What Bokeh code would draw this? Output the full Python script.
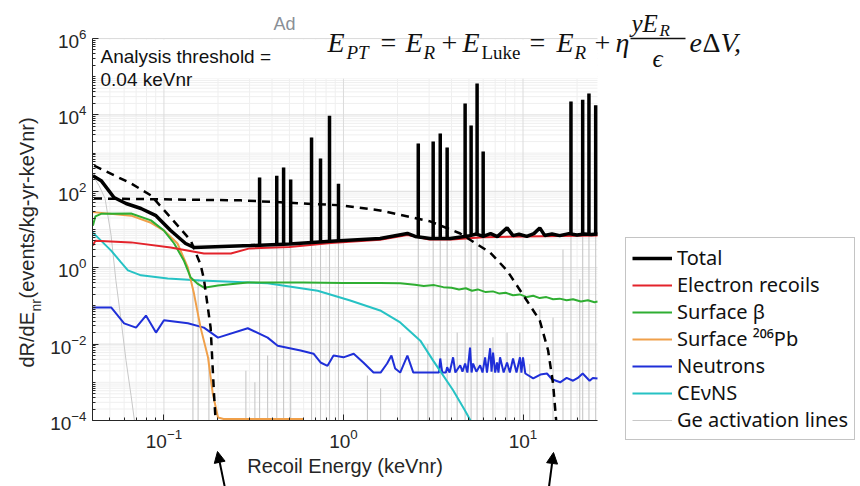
import numpy as np
from bokeh.plotting import figure
from bokeh.models import (FixedTicker, Legend, LegendItem, Label, BoxAnnotation,
                          Arrow, NormalHead)
from bokeh.embed import file_html
from bokeh.resources import INLINE

# ---------------- data ----------------
x_lim = (0.04, 26.0)
y_lim = (1e-4, 1e6)
x_ticks = [0.1, 1.0, 10.0]
y_ticks = [1e-4, 1e-2, 1e0, 1e2, 1e4, 1e6]

total_E = [0.0402, 0.0447, 0.0527, 0.0615, 0.0745, 0.0903, 0.109, 0.132, 0.147, 0.304, 0.5,
           0.847, 1.6, 2.27, 2.51, 3.04, 3.93, 5.07, 5.5, 6.0, 6.6, 7.2, 8.15, 8.8, 9.5,
           10.5, 11.5, 12.4, 13.2, 14.5, 16.0, 18.0, 20.0, 22.0, 24.0, 26.0]
total_R = [257, 190, 69, 48, 35.5, 23, 9.4, 4.3, 3.4, 3.8, 4.2,
           4.9, 5.8, 7.9, 6.6, 5.8, 5.8, 6.9, 7.6, 6.6, 7.8, 6.5, 11.0, 6.9, 7.5,
           6.6, 7.8, 11.0, 7.0, 7.6, 6.9, 7.8, 7.2, 7.6, 7.4, 7.6]

spike_E = [0.341, 0.425, 0.464, 0.508, 0.664, 0.745, 0.836, 0.938, 2.61, 3.16, 3.46, 3.78,
           4.76, 5.14, 5.55, 6.0, 18.5, 21.5, 23.3, 25.4]
spike_top = [229, 257, 417, 204, 2570, 724, 9550, 158, 1780, 2000, 3240, 1410,
             20000, 5250, 66000, 1100, 22400, 25100, 36300, 17800]

er_E = [0.0402, 0.0415, 0.0656, 0.109, 0.167, 0.236, 0.3, 0.5, 0.85, 1.6, 2.27, 2.6, 3.0,
        4.0, 6.0, 10.0, 26.0]
er_R = [3.8, 5.1, 4.6, 3.4, 2.35, 2.35, 3.2, 3.5, 4.4, 5.4, 7.2, 6.4, 5.5,
        5.5, 6.3, 6.6, 7.0]

beta_E = [0.0402, 0.0415, 0.045, 0.0656, 0.0847, 0.1, 0.114, 0.129, 0.141, 0.153, 0.167, 0.2,
          0.293, 0.6, 1.0, 1.6, 2.07, 2.5, 2.8, 3.2, 3.6, 4.0, 4.4, 4.8, 5.2, 5.6, 6.2, 6.8,
          7.4, 8.0, 8.8, 9.6, 10.5, 11.4, 12.4, 13.5, 14.7, 16.0, 17.5, 19.0, 21.0, 23.0,
          25.0, 26.0]
beta_R = [12.6, 22, 26, 26.3, 17.3, 9.4, 4.3, 1.55, 0.55, 0.39, 0.30, 0.34,
          0.41, 0.41, 0.40, 0.40, 0.39, 0.36, 0.33, 0.35, 0.31, 0.30, 0.27, 0.29, 0.25, 0.27,
          0.23, 0.24, 0.21, 0.22, 0.19, 0.20, 0.17, 0.185, 0.16, 0.17, 0.15, 0.155, 0.14, 0.15,
          0.13, 0.14, 0.125, 0.13]

pb_E = [0.0402, 0.0656, 0.0847, 0.1, 0.119, 0.136, 0.147, 0.16, 0.176, 0.187, 0.2, 0.215, 0.6]
pb_R = [28.5, 23, 15, 9.4, 4.3, 1.0, 0.21, 0.027, 0.0045, 5.1e-4, 1.2e-4, 1.1e-4, 1.1e-4]

n_E = [0.0402, 0.0508, 0.06, 0.0699, 0.0794, 0.0903, 0.1, 0.136, 0.167, 0.2, 0.293, 0.378,
       0.43, 0.577, 0.681, 0.745, 0.815, 0.88, 1.0, 1.14, 1.29, 1.47, 1.61, 1.75, 1.85, 1.94,
       2.07, 2.27, 2.45, 3.16, 3.4, 3.46, 3.55, 3.72, 3.78, 3.9, 4.08, 4.2, 4.47, 4.6, 4.76,
       4.9, 5.07, 5.17, 5.27, 5.5, 5.77, 5.95, 6.15, 6.3, 6.56, 6.68, 6.81, 7.0, 7.17, 7.3,
       7.45, 7.8, 8.15, 8.45, 8.8, 9.2, 9.62, 9.8, 10.0, 10.3, 11.4, 12.5, 13.6, 14.5, 16.1,
       17.5, 19.0, 20.2, 21.5, 23.5, 24.5, 26.0]
n_R = [0.091, 0.091, 0.035, 0.027, 0.056, 0.020, 0.042, 0.035, 0.027, 0.0148, 0.026, 0.0148,
       0.0091, 0.0068, 0.0056, 0.0033, 0.0027, 0.005, 0.0045, 0.0056, 0.0033, 0.0018, 0.0018,
       0.0031, 0.005, 0.0023, 0.0018, 0.005, 0.0018, 0.0018, 0.0018, 0.0042, 0.0018, 0.0018,
       0.0025, 0.0018, 0.0045, 0.0018, 0.0028, 0.0019, 0.0031, 0.0018, 0.0081, 0.0018, 0.0031,
       0.0019, 0.0028, 0.0018, 0.0045, 0.0018, 0.0078, 0.0019, 0.006, 0.0018, 0.0033, 0.0018,
       0.0045, 0.0018, 0.0033, 0.0018, 0.0042, 0.0018, 0.0045, 0.0018, 0.0045, 0.0017, 0.00126,
       0.0016, 0.0017, 0.0012, 0.001, 0.0013, 0.0011, 0.0013, 0.0017, 0.0011, 0.0013, 0.00126]

cevns_E = [0.0402, 0.0508, 0.0577, 0.063, 0.0745, 0.105, 0.16, 0.378, 0.718, 1.09, 1.6, 2.07,
           2.68, 3.16, 4.08, 4.76, 5.1]
cevns_R = [8.3, 2.8, 1.38, 0.85, 0.63, 0.52, 0.46, 0.39, 0.25, 0.138, 0.076, 0.037,
           0.0123, 0.0037, 6.2e-4, 1.8e-4, 1e-4]

ge_curve_E = [0.0402, 0.0435, 0.047, 0.0508, 0.054, 0.0577, 0.0615, 0.0656, 0.0685]
ge_curve_R = [257, 141, 65, 6.9, 0.46, 0.042, 0.0037, 4.5e-4, 1e-4]

ge_line_E = [0.145, 0.155, 0.178, 0.286, 0.321, 0.341, 0.378, 0.425, 0.464, 0.508, 0.664, 0.745,
             0.836, 0.938, 1.36, 1.61, 2.07, 2.61, 2.95, 3.16, 3.46, 3.78, 4.3, 4.76, 5.14, 5.55,
             6.0, 6.8, 8.15, 9.6, 10.9, 12.4, 14.7, 16.7, 18.5, 20.7, 21.5, 23.3, 25.4]
ge_line_top = [0.3, 0.5, 0.0045, 0.002, 0.001, 229, 0.005, 257, 417, 204, 2570, 724,
               9550, 158, 0.0015, 0.0007, 0.015, 1780, 0.01, 2000, 3240, 1410, 0.02, 20000, 5250,
               66000, 1100, 0.015, 0.02, 0.02, 0.003, 0.08, 0.05, 3.0, 22400, 0.5, 25100, 36300,
               17800]

dm1_E = [0.0408, 0.0656, 0.0847, 0.109, 0.141, 0.16, 0.167, 0.182, 0.19, 0.194]
dm1_R = [473, 160, 78, 20.6, 5.15, 1.2, 0.5, 0.027, 5.1e-4, 1e-4]

dm2_E = [0.0408, 0.268, 0.962, 1.6, 3.04, 4.47, 6.56, 8.15, 10.5, 12.4, 13.8, 14.7, 15.3]
dm2_R = [65, 58, 43, 31.6, 16.3, 7.85, 2.5, 0.845, 0.138, 0.0415, 6.8e-3, 9.3e-4, 1e-4]

legend_labels = ["Total", "Electron recoils", "Surface β", "Surface ²⁰⁶Pb", "Neutrons",
                 "CEνNS", "Ge activation lines"]

# ---------------- layout ----------------
W, H = 860, 486
PL, PR, PT, PB = 92, 597, 38, 420          # plot box inside the canvas
SANS = "Liberation Sans"
SERIF = "Liberation Serif"
AXC = "#262626"

LX0, LX1 = np.log10(x_lim)
LY0, LY1 = np.log10(y_lim)
kx = (LX1 - LX0) / (PR - PL)
ky = (LY1 - LY0) / (PB - PT)
full_x = (10 ** (LX0 - PL * kx), 10 ** (LX1 + (W - PR) * kx))
full_y = (10 ** (LY0 - (H - PB) * ky), 10 ** (LY1 + PT * ky))


def dx(px):
    return 10 ** (LX0 + (px - PL) * kx)


def dy(py):
    return 10 ** (LY1 - (py - PT) * ky)


p = figure(width=W, height=H, x_axis_type="log", y_axis_type="log",
           x_range=full_x, y_range=full_y, title=None,
           output_backend="svg", toolbar_location=None,
           min_border_left=0, min_border_right=0, min_border_top=0, min_border_bottom=0)
p.outline_line_color = None
p.background_fill_color = "white"
p.xgrid.visible = False
p.ygrid.visible = False

x_minor = [k * 10.0 ** e for e in (-2, -1, 0, 1) for k in range(1, 10)
           if x_lim[0] <= k * 10.0 ** e <= x_lim[1] and k * 10.0 ** e not in x_ticks]
y_minor = [k * 10.0 ** e for e in range(-4, 6) for k in range(1, 10)
           if k * 10.0 ** e not in y_ticks]
p.xaxis.ticker = FixedTicker(ticks=x_ticks, minor_ticks=x_minor)
p.yaxis.ticker = FixedTicker(ticks=y_ticks, minor_ticks=y_minor)
p.xaxis.fixed_location = y_lim[0]
p.yaxis.fixed_location = x_lim[0]
p.xaxis.bounds = x_lim
p.yaxis.bounds = y_lim

for ax in (p.xaxis, p.yaxis):
    ax.axis_line_color = AXC
    ax.major_tick_line_color = AXC
    ax.minor_tick_line_color = AXC
    ax.major_tick_in = 6
    ax.major_tick_out = 0
    ax.minor_tick_in = 3
    ax.minor_tick_out = 0
    ax.major_label_text_font = SANS
    ax.major_label_text_font_size = "19px"
    ax.major_label_text_color = AXC
p.yaxis.major_label_standoff = 6
p.xaxis.major_label_standoff = 8
p.xaxis.axis_label = "Recoil Energy (keVnr)"
p.xaxis.axis_label_text_font = SANS
p.xaxis.axis_label_text_font_size = "20px"
p.xaxis.axis_label_text_font_style = "normal"
p.xaxis.axis_label_text_color = AXC
p.xaxis.axis_label_standoff = 4

# grid (restricted to the plot box)
grid_major = "#dcdcdc"
grid_minor = "#efefef"
p.segment(x0=x_minor, y0=[y_lim[0]] * len(x_minor), x1=x_minor, y1=[y_lim[1]] * len(x_minor),
          line_color=grid_minor, line_width=1, level="underlay")
p.segment(x0=[x_lim[0]] * len(y_minor), y0=y_minor, x1=[x_lim[1]] * len(y_minor), y1=y_minor,
          line_color=grid_minor, line_width=1, level="underlay")
p.segment(x0=x_ticks, y0=[y_lim[0]] * len(x_ticks), x1=x_ticks, y1=[y_lim[1]] * len(x_ticks),
          line_color=grid_major, line_width=1, level="underlay")
p.segment(x0=[x_lim[0]] * len(y_ticks), y0=y_ticks, x1=[x_lim[1]] * len(y_ticks), y1=y_ticks,
          line_color=grid_major, line_width=1, level="underlay")

# white area behind the formula / threshold text (covers only the grid)
p.add_layout(BoxAnnotation(left=x_lim[0], right=x_lim[1], top=dy(39), bottom=dy(78),
                           fill_color="white", fill_alpha=1.0, line_color=None,
                           level="underlay"))

# ---------------- curves ----------------
gray = "#c8c8c8"
ge_floor = [y_lim[0]] * len(ge_line_E)
r_ge = p.line(ge_curve_E, ge_curve_R, line_color=gray, line_width=1)
p.segment(x0=ge_line_E, y0=ge_floor, x1=ge_line_E, y1=ge_line_top, line_color=gray,
          line_width=1.1)
r_n = p.line(n_E, n_R, line_color="#1f2fd8", line_width=2)
r_cv = p.line(cevns_E, cevns_R, line_color="#26c2c4", line_width=2)
r_pb = p.line(pb_E, pb_R, line_color="#f0a04a", line_width=2)
r_b = p.line(beta_E, beta_R, line_color="#2fae32", line_width=2)
r_er = p.line(er_E, er_R, line_color="#e3232b", line_width=2)
p.line(dm1_E, dm1_R, line_color="black", line_width=2.5, line_dash="8 6")
p.line(dm2_E, dm2_R, line_color="black", line_width=2.5, line_dash="8 6")
spike_base = 10 ** np.interp(np.log10(spike_E), np.log10(total_E), np.log10(total_R))
p.segment(x0=spike_E, y0=spike_base, x1=spike_E, y1=spike_top, line_color="black",
          line_width=3.5)
r_tot = p.line(total_E, total_R, line_color="black", line_width=3.5)

legend = Legend(items=[LegendItem(label=lab, renderers=[r]) for lab, r in
                       zip(legend_labels, [r_tot, r_er, r_b, r_pb, r_n, r_cv, r_ge])],
                location=(625, H - 440), margin=0, padding=6, spacing=-1,
                label_height=22, glyph_height=22, glyph_width=40, label_standoff=5,
                label_text_font="Noto Sans", label_text_font_size="20px",
                label_text_color="#111111",
                border_line_color="#8a8a8a", border_line_width=1,
                background_fill_color="white", background_fill_alpha=1.0)
p.add_layout(legend)

# ---------------- texts ----------------
SHIFT = 0.34   # baseline correction, in em


def put(text, px, py, size, italic=False, font=SANS, color="#111111", angle=0.0):
    if angle == 0.0:
        py = py - SHIFT * size
    else:
        px = px - SHIFT * size
    p.add_layout(Label(x=dx(px), y=dy(py), text=text, text_font=font,
                       text_font_size=f"{size}px",
                       text_font_style="italic" if italic else "normal",
                       text_color=color, text_baseline="alphabetic", text_align="left",
                       angle=angle))


put("Analysis threshold =", 100, 62, 19)
put("0.04 keVnr", 100, 85, 19)
put("Ad", 273, 30, 18, color="#8a8f96")

# y axis label (rotated)
ang = np.pi / 2
put("dR/dE", 33, 367, 20, angle=ang, color=AXC)
put("nr", 40, 311, 14, angle=ang, color=AXC)
put(" (events/kg-yr-keVnr)", 33, 298, 20, angle=ang, color=AXC)

# formula
put("E", 327, 52, 28, italic=True, font=SERIF)
put("PT", 346, 58, 19, italic=True, font=SERIF)
put("=", 380, 52, 28, font=SERIF)
put("E", 405, 52, 28, italic=True, font=SERIF)
put("R", 423, 58, 19, italic=True, font=SERIF)
put("+", 441, 52, 28, font=SERIF)
put("E", 462, 52, 28, italic=True, font=SERIF)
put("Luke", 481, 58, 19, font=SERIF)
put("=", 529, 52, 28, font=SERIF)
put("E", 556, 52, 28, italic=True, font=SERIF)
put("R", 574, 58, 19, italic=True, font=SERIF)
put("+", 594, 52, 28, font=SERIF)
put("η", 615, 52, 28, italic=True, font=SERIF)
put("y", 631, 31, 25, italic=True, font=SERIF)
put("E", 642, 31, 25, italic=True, font=SERIF)
put("R", 659, 36, 17, italic=True, font=SERIF)
put("ϵ", 652, 66, 25, italic=True, font=SERIF)
put("e", 689, 52, 28, italic=True, font=SERIF)
put("Δ", 702, 52, 28, font=SERIF)
put("V,", 720, 52, 28, italic=True, font=SERIF)
p.add_layout(Arrow(end=None, x_start=dx(630), y_start=dy(38), x_end=dx(685), y_end=dy(38),
                   line_color="#111111", line_width=1.3))

# arrows below the axis
for (x0, y0, x1, y1) in [(225, 490, 217, 451), (548, 490, 553, 452)]:
    p.add_layout(Arrow(end=NormalHead(size=11, fill_color="black", line_color="black"),
                       x_start=dx(x0), y_start=dy(y0), x_end=dx(x1), y_end=dy(y1),
                       line_color="black", line_width=2))

open("out.html", "w").write(file_html(p, INLINE))
